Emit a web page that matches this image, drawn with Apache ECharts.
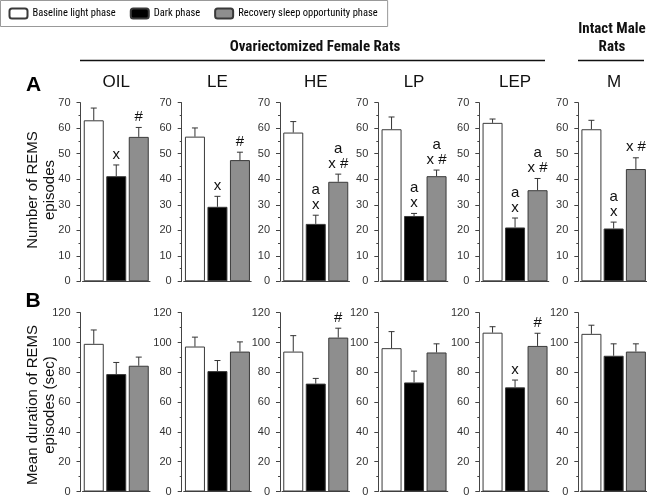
<!DOCTYPE html>
<html>
<head>
<meta charset="utf-8">
<script src="https://cdn.jsdelivr.net/npm/echarts@6/dist/echarts.min.js"></script>
<style>html,body{margin:0;padding:0;background:#fff}#c{width:647px;height:497px}</style>
</head>
<body>
<div id="c"></div>
<script>
// ---- data ----
const groups = ['OIL', 'LE', 'HE', 'LP', 'LEP', 'M'];
const phaseNames = ['Baseline light phase', 'Dark phase', 'Recovery sleep opportunity phase'];
const phaseCats = ['Baseline', 'Dark', 'Recovery'];

// Panel A: Number of REMS episodes (mean, SEM)
const countBaseline = [63.1, 56.7, 58.3, 59.6, 62.1, 59.6];
const countDark = [41.2, 29.2, 22.5, 25.6, 21.1, 20.7];
const countRecovery = [56.6, 47.5, 39.0, 41.2, 35.7, 44.0];
const countErrBaseline = [4.8, 3.4, 4.3, 4.8, 1.5, 3.5];
const countErrDark = [4.4, 4.1, 3.4, 1.0, 3.7, 2.5];
const countErrRecovery = [3.7, 3.1, 3.0, 2.4, 4.6, 4.4];
const countMarksBaseline = ['', '', '', '', '', ''];
const countMarksDark = ['x', 'x', 'a\nx', 'a\nx', 'a\nx', 'a\nx'];
const countMarksRecovery = ['#', '#', 'a\nx #', 'a\nx #', 'a\nx #', 'x #'];

// Panel B: Mean duration of REMS episodes (sec)
const durBaseline = [99.1, 97.3, 93.9, 96.2, 106.6, 105.8];
const durDark = [78.8, 80.8, 72.4, 73.2, 69.9, 91.1];
const durRecovery = [84.4, 93.9, 103.3, 93.3, 97.7, 93.9];
const durErrBaseline = [9.3, 6.3, 10.7, 11.1, 4.0, 5.8];
const durErrDark = [7.8, 7.1, 3.5, 7.6, 4.9, 8.0];
const durErrRecovery = [5.8, 6.5, 6.3, 5.8, 8.5, 5.2];
const durMarksBaseline = ['', '', '', '', '', ''];
const durMarksDark = ['', '', '', '', 'x', ''];
const durMarksRecovery = ['', '', '#', '', '#', ''];

const countTicks = { min: 0, max: 70, interval: 10 };
const durTicks = { min: 0, max: 120, interval: 20 };

// ---- layout / style ----
const axisX = [80.5, 181.7, 280, 378.3, 479.3, 578.3];
const panels = [
  { top: 102.7, bottom: 281.3, ticks: countTicks,
    vals: [countBaseline, countDark, countRecovery],
    errs: [countErrBaseline, countErrDark, countErrRecovery],
    marks: [countMarksBaseline, countMarksDark, countMarksRecovery] },
  { top: 312.7, bottom: 492.3, ticks: durTicks,
    vals: [durBaseline, durDark, durRecovery],
    errs: [durErrBaseline, durErrDark, durErrRecovery],
    marks: [durMarksBaseline, durMarksDark, durMarksRecovery] }
];
const fills = ['#ffffff', '#000000', '#8e8e8e'];
const border = '#3a3a3a';
const FONT = '"Liberation Sans", Arial, sans-serif';
const NARROW = '"Roboto Condensed", "Liberation Sans", sans-serif';

const grid = [], xAxis = [], yAxis = [], series = [];
panels.forEach((p, pi) => {
  groups.forEach((g, gi) => {
    const k = pi * groups.length + gi;
    grid.push({ left: axisX[gi] + 2, width: 67.5, top: p.top, height: p.bottom - p.top });
    xAxis.push({
      gridIndex: k, type: 'category', data: phaseCats,
      axisLine: { lineStyle: { color: '#444', width: 1 } },
      axisTick: { show: false }, axisLabel: { show: false }, splitLine: { show: false }
    });
    yAxis.push({
      gridIndex: k, type: 'value', min: p.ticks.min, max: p.ticks.max, interval: p.ticks.interval,
      offset: 2,
      axisLine: { show: true, lineStyle: { color: '#444', width: 1 } },
      axisTick: { show: true, length: 4, lineStyle: { color: '#444' } },
      minorTick: { show: true, splitNumber: 2, length: 2, lineStyle: { color: '#444' } },
      splitLine: { show: false },
      axisLabel: { fontFamily: FONT, fontSize: 11, color: '#333', margin: 10 }
    });
    for (let s = 0; s < 3; s++) {
      series.push({
        type: 'bar', name: phaseNames[s], xAxisIndex: k, yAxisIndex: k,
        data: phaseCats.map((c, ci) => ci === s ? p.vals[s][gi] : '-'),
        barWidth: 20, barGap: '-100%',
        itemStyle: { color: fills[s], borderColor: border, borderWidth: 1 },
        silent: true, animation: false
      });
    }
    const items = [0, 1, 2].map(s => [s, p.vals[s][gi], p.errs[s][gi]]);
    const labels = [0, 1, 2].map(s => p.marks[s][gi]);
    series.push({
      type: 'custom', xAxisIndex: k, yAxisIndex: k, silent: true, animation: false, z: 5,
      data: items,
      renderItem: function (params, api) {
        const c = api.value(0), v = api.value(1), e = api.value(2);
        const base = api.coord([c, v]);
        const top = api.coord([c, v + e]);
        const children = [
          { type: 'line', shape: { x1: base[0], y1: base[1], x2: top[0], y2: top[1] },
            style: { stroke: '#333', lineWidth: 1 } },
          { type: 'line', shape: { x1: top[0] - 3, y1: top[1], x2: top[0] + 3, y2: top[1] },
            style: { stroke: '#333', lineWidth: 1 } }
        ];
        const t = labels[params.dataIndex];
        if (t) {
          children.push({ type: 'text', x: top[0], y: top[1] - 3,
            style: { text: t, fill: '#111', font: '15px ' + FONT, align: 'center',
                     verticalAlign: 'bottom', lineHeight: 15 } });
        }
        return { type: 'group', children: children };
      }
    });
  });
});

const graphic = [
  { type: 'text', x: 315, y: 47.7, style: { text: 'Ovariectomized Female Rats', font: 'bold 15px ' + NARROW, fill: '#111', align: 'center', verticalAlign: 'middle' } },
  { type: 'text', x: 612, y: 38.5, style: { text: 'Intact Male\nRats', font: 'bold 15px ' + NARROW, fill: '#111', align: 'center', verticalAlign: 'middle', lineHeight: 18 } },
  { type: 'line', shape: { x1: 80, y1: 60.5, x2: 545, y2: 60.5 }, style: { stroke: '#111', lineWidth: 1.5 } },
  { type: 'line', shape: { x1: 578, y1: 60.5, x2: 644, y2: 60.5 }, style: { stroke: '#111', lineWidth: 1.5 } },
  { type: 'text', x: 33.5, y: 85, style: { text: 'A', font: 'bold 21px ' + FONT, fill: '#000', align: 'center', verticalAlign: 'middle' } },
  { type: 'text', x: 33, y: 301.5, style: { text: 'B', font: 'bold 21px ' + FONT, fill: '#000', align: 'center', verticalAlign: 'middle' } },
  { type: 'text', x: 41.5, y: 190, rotation: Math.PI / 2, style: { text: 'Number of REMS\nepisodes', font: '15px ' + FONT, fill: '#111', align: 'center', verticalAlign: 'middle', lineHeight: 17 } },
  { type: 'text', x: 41.5, y: 405, rotation: Math.PI / 2, style: { text: 'Mean duration of REMS\nepisodes (sec)', font: '15px ' + FONT, fill: '#111', align: 'center', verticalAlign: 'middle', lineHeight: 17 } }
];
groups.forEach((g, gi) => {
  graphic.push({ type: 'text', x: axisX[gi] + 2 + 33.75, y: 82, style: { text: g, font: '17px ' + FONT, fill: '#111', align: 'center', verticalAlign: 'middle' } });
});

const chart = echarts.init(document.getElementById('c'), null, { renderer: 'canvas' });
chart.setOption({
  animation: false,
  backgroundColor: '#fff',
  legend: {
    left: 0.5, top: 0.5, data: phaseNames,
    borderColor: '#999', borderWidth: 1, padding: [7, 10, 7, 8],
    itemWidth: 18, itemHeight: 10, itemGap: 14,
    textStyle: { fontFamily: 'Roboto Condensed', fontSize: 10.5, color: '#000' },
    selectedMode: false
  },
  grid, xAxis, yAxis, series, graphic
});
</script>
</body>
</html>
